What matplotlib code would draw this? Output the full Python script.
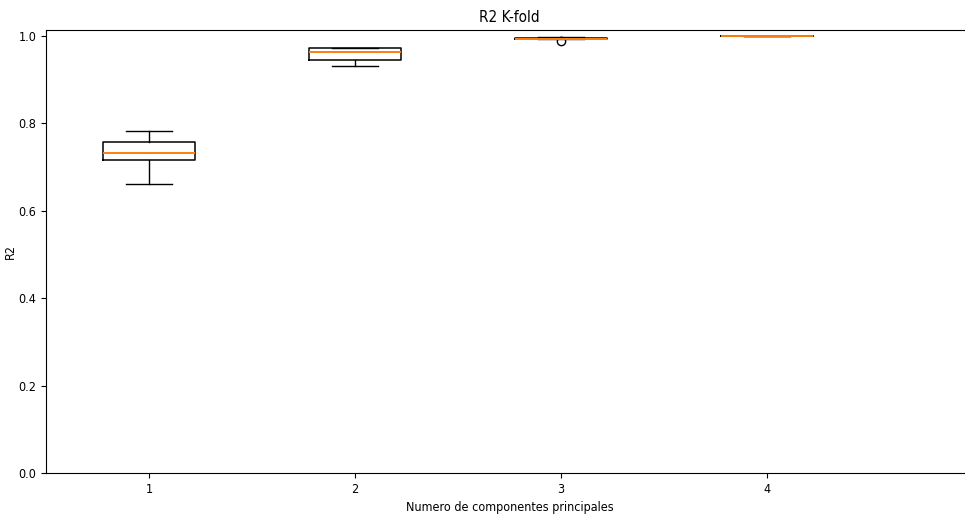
import matplotlib
matplotlib.use("Agg")
import matplotlib.pyplot as plt

# R2 por fold para cada numero de componentes
componentes = [1, 2, 3, 4]
r2_1 = [0.661, 0.716, 0.732, 0.757, 0.783]
r2_2 = [0.931, 0.945, 0.963, 0.973, 0.973]
r2_3 = [0.989, 0.9925, 0.9935, 0.9945, 0.997]
r2_4 = [1.0, 1.0, 1.0, 1.0, 1.0]

plt.rcParams['font.family'] = 'DejaVu Sans'
plt.rcParams['font.stretch'] = 'condensed'

fig = plt.figure(figsize=(9.65, 5.15), dpi=100)
ax = fig.add_axes([46 / 965, 42 / 515, 927 / 965, 443 / 515])

ax.boxplot([r2_1, r2_2, r2_3, r2_4], positions=componentes,
           boxprops=dict(linewidth=1.1), medianprops=dict(linewidth=1.4))
ax.set_xlim(0.5, 5.0)
ax.set_ylim(0, 1.0137)
ax.set_xticks(componentes)
ax.set_xticklabels([str(c) for c in componentes])
ax.tick_params(labelsize=9)

ax.set_title("R2 K-fold", fontsize=11)
ax.set_xlabel("Numero de componentes principales", fontsize=9)
ax.set_ylabel("R2", fontsize=9)
ax.yaxis.set_label_coords(-0.031, 0.5)

fig.savefig("out.png", dpi=100)
